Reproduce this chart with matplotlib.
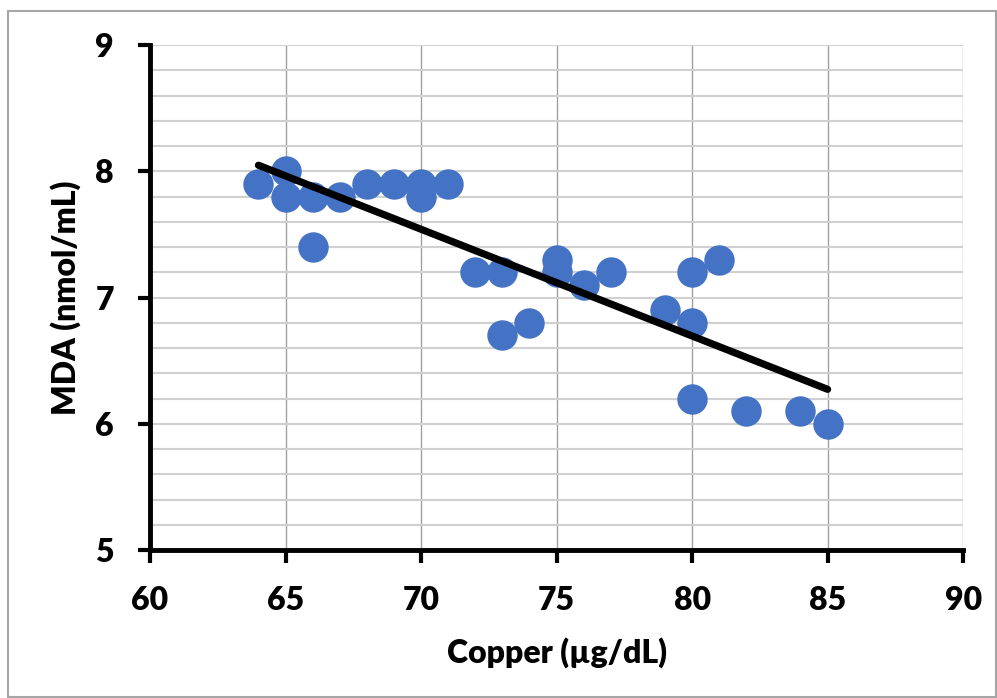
import matplotlib
matplotlib.use("Agg")
import matplotlib.pyplot as plt
import numpy as np
from matplotlib.ticker import MultipleLocator

copper = [64, 65, 65, 66, 66, 67, 68, 69, 70, 70, 71, 72, 73, 73, 74, 75, 75, 76, 77, 79, 80, 80, 80, 81, 82, 84, 85]
mda = [7.9, 8.0, 7.8, 7.8, 7.4, 7.8, 7.9, 7.9, 7.9, 7.8, 7.9, 7.2, 7.2, 6.7, 6.8, 7.3, 7.2, 7.1, 7.2, 6.9, 7.2, 6.8, 6.2, 7.3, 6.1, 6.1, 6.0]
xticks = [60, 65, 70, 75, 80, 85, 90]
yticks = [5, 6, 7, 8, 9]

plt.rcParams['font.family'] = ['Lato', 'DejaVu Sans']
fig = plt.figure(figsize=(9.97, 6.98), dpi=100)
x0, y1 = 7.5 / 997, 1 - 10.5 / 698
fig.patches.append(plt.Rectangle((x0, 0.0015), 0.9985 - x0, y1 - 0.0015, transform=fig.transFigure,
                                 fill=False, edgecolor='#a6a6a6', linewidth=1.5))
ax = fig.add_axes([0.1505, 0.212, 0.8155, 0.7235])

ax.scatter(copper, mda, s=480, color='#4472C4', zorder=3, linewidths=0)
coef = np.polyfit(copper, mda, 1)
xs = np.array([min(copper), max(copper)])
ax.plot(xs, np.polyval(coef, xs), color='black', linewidth=5.2, solid_capstyle='round', zorder=4)

ax.set_xlim(60, 90)
ax.set_ylim(5, 9)
ax.set_xticks(xticks)
ax.set_yticks(yticks)
ax.yaxis.set_minor_locator(MultipleLocator(0.2))
ax.grid(True, which='major', axis='x', color='#a0a0a0', linewidth=1)
ax.grid(True, which='both', axis='y', color='#d0d0d0', linewidth=1.5)
ax.set_axisbelow(True)
ax.tick_params(axis='y', which='minor', length=0)
ax.tick_params(axis='both', which='major', direction='out', length=9, width=3, labelsize=23, pad=17)
for lab in ax.get_xticklabels() + ax.get_yticklabels():
    lab.set_fontweight('heavy')
for s in ['top', 'right']:
    ax.spines[s].set_visible(False)
for s in ['left', 'bottom']:
    ax.spines[s].set_linewidth(3.5)
    ax.spines[s].set_color('black')

ax.set_xlabel('Copper (µg/dL)', fontsize=23, fontweight='heavy', labelpad=16)
ax.set_ylabel('MDA (nmol/mL)', fontsize=23, fontweight='heavy', labelpad=10)

fig.savefig('out.png', dpi=100)
